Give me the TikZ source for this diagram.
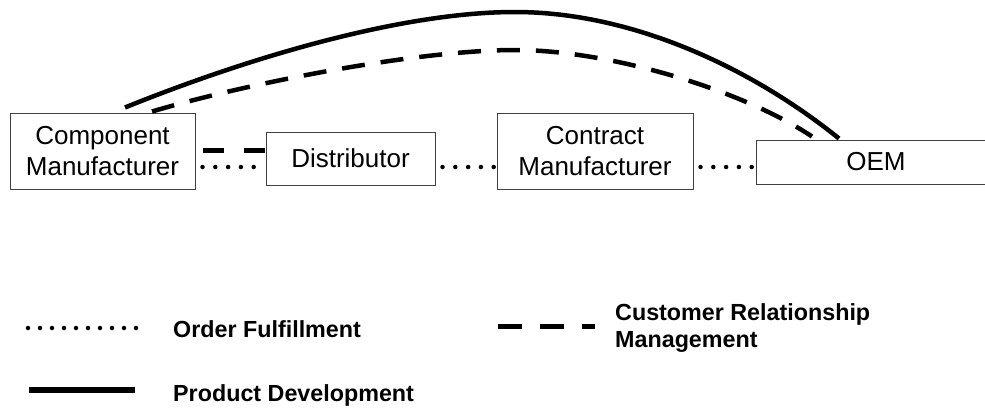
\documentclass[tikz,border=0pt]{standalone}
\usepackage{fontspec}
\setmainfont{Liberation Sans}
\newfontfamily\legendfont{Liberation Sans Bold}
\usetikzlibrary{calc}
\begin{document}
\begin{tikzpicture}[x=1pt,y=-1pt,
  box/.style={draw=black!75,line width=1pt,inner sep=0pt,align=center,
    font=\fontsize{26}{31}\selectfont},
  ofline/.style={line width=4.5pt,line cap=round,dash pattern=on 0pt off 12.8pt},
  crmline/.style={line width=4.5pt,dash pattern=on 23pt off 16pt},
  pdline/.style={line width=4.5pt},
  legtext/.style={font=\legendfont\fontsize{23.3}{27}\selectfont,inner sep=0pt,align=left}]
\useasboundingbox (0,0) rectangle (985,407);
% boxes
\node[box,minimum width=185pt,minimum height=76pt] (cm) at (102.5,151) {Component\\Manufacturer};
\node[box,minimum width=169pt,minimum height=53pt] (dist) at (350.5,158.5) {Distributor};
\node[box,minimum width=196pt,minimum height=76pt] (cmf) at (595,151) {Contract\\Manufacturer};
\node[box,minimum width=240pt,minimum height=44pt] (oem) at (876,162) {OEM};
% order fulfillment (dotted)
\coordinate (dotrow) at (0,167);
\draw[ofline] (cm.east |- dotrow) ++(7,0) -- (dist.west |- dotrow);
\draw[ofline] (dist.east |- dotrow) ++(7,0) -- (cmf.west |- dotrow);
\draw[ofline] (cmf.east |- dotrow) ++(7,0) -- (oem.west |- dotrow);
% CRM dashed short
\coordinate (dashrow) at (0,150);
\draw[line width=5pt,dash pattern=on 21pt off 20pt] (cm.east |- dashrow) ++(7,0) -- (dist.west |- dashrow);
% product development curve
\draw[pdline] ($(cm.north)+(22.5,-5)$) .. controls (245,59) and (400,12) .. (515,12)
  .. controls (630,12) and (749,66) .. ($(oem.north)+(-37,-1)$);
% CRM curve
\draw[crmline] ($(cm.north)+(49.5,-1)$) .. controls (252,82) and (420,50) .. (515,50)
  .. controls (610,50) and (742,90) .. ($(oem.north)+(-64,-3)$);
% legend
\coordinate (ofa) at (28,328); \coordinate (ofb) at (136,328);
\draw[line width=4.5pt,line cap=round,dash pattern=on 0pt off 12pt] (ofa) -- (ofb);
\node[legtext,anchor=base west] (oft) at (173,337) {Order Fulfillment};
\coordinate (pda) at (29,390); \coordinate (pdb) at (135,390);
\draw[line width=6pt] (pda) -- (pdb);
\node[legtext,anchor=base west] (pdt) at (173,401) {Product Development};
\coordinate (crma) at (498,326); \coordinate (crmb) at (595,326);
\draw[line width=5pt,dash pattern=on 24pt off 18pt] (crma) -- (crmb);
\node[legtext,anchor=base west] (crmt) at (615,320) {Customer Relationship};
\node[legtext,anchor=base west] (crmt2) at (615,347) {Management};
\end{tikzpicture}
\end{document}
